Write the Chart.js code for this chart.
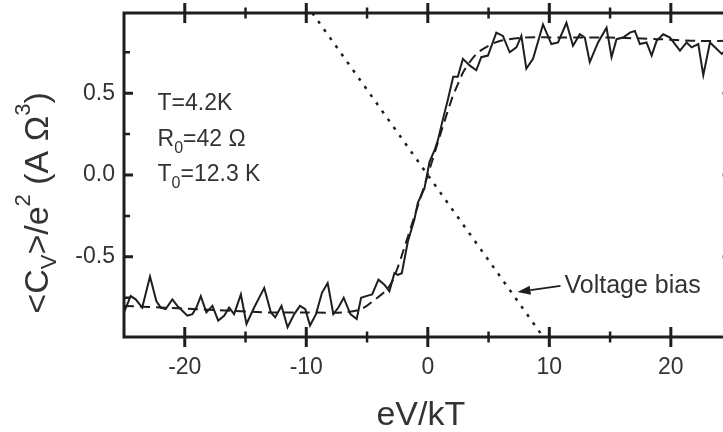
<!DOCTYPE html>
<html>
<head>
<meta charset="utf-8">
<script src="https://cdn.jsdelivr.net/npm/chart.js@4.4.1/dist/chart.umd.min.js"></script>
<style>
html, body { margin: 0; padding: 0; background: #fff; overflow: hidden; }
#wrap { width: 745px; height: 432px; }
</style>
</head>
<body>
<div id="wrap"><canvas id="cvChart" width="745" height="432"></canvas></div>
<script>
// measured <Cv>/e^2 (noisy curve)
const measuredX = [-25.0, -24.45, -24.04, -23.5, -22.86, -22.34, -21.98, -21.57, -21.02, -20.61,
    -20.2, -19.79, -19.37, -19.04, -18.68, -18.22, -17.72, -17.25, -16.76, -16.35,
    -15.94, -15.38, -14.92, -14.29, -13.46, -12.91, -12.56, -12.04, -11.54, -10.99,
    -10.52, -10.08, -9.69, -9.2, -8.71, -8.24, -7.77, -7.36, -6.92, -6.37,
    -5.85, -5.49, -5.08, -4.58, -4.06, -3.57, -3.16, -2.75, -2.47, -2.14,
    -1.65, -1.1, -0.82, -0.27, 0.14, 0.55, 0.82, 1.24, 1.65, 2.09,
    2.47, 2.89, 3.44, 3.99, 4.40, 4.95, 5.64, 6.18, 6.74, 7.29,
    7.70, 8.11, 8.66, 9.48, 10.17, 10.72, 11.41, 11.95, 12.51, 12.92,
    13.33, 14.01, 14.71, 15.12, 15.53, 16.08, 16.63, 17.04, 17.45, 18.0,
    18.42, 18.83, 19.37, 19.93, 20.75, 21.3, 21.71, 22.26, 22.67, 23.22,
    23.78, 24.19, 24.7, 25.0];
const measuredY = [-0.84, -0.74, -0.76, -0.81, -0.62, -0.77, -0.81, -0.82, -0.76, -0.80,
    -0.83, -0.86, -0.85, -0.81, -0.74, -0.84, -0.80, -0.89, -0.86, -0.81,
    -0.85, -0.73, -0.91, -0.81, -0.69, -0.84, -0.87, -0.80, -0.93, -0.85,
    -0.80, -0.82, -0.92, -0.85, -0.72, -0.66, -0.85, -0.81, -0.75, -0.85,
    -0.88, -0.75, -0.74, -0.73, -0.64, -0.67, -0.71, -0.60, -0.61, -0.60,
    -0.41, -0.27, -0.17, -0.08, 0.08, 0.15, 0.21, 0.34, 0.46, 0.60,
    0.60, 0.71, 0.67, 0.64, 0.72, 0.73, 0.87, 0.85, 0.75, 0.78,
    0.85, 0.65, 0.71, 0.92, 0.80, 0.81, 0.93, 0.79, 0.86, 0.84,
    0.69, 0.81, 0.90, 0.72, 0.83, 0.84, 0.87, 0.88, 0.80, 0.81,
    0.73, 0.82, 0.86, 0.84, 0.76, 0.81, 0.78, 0.80, 0.61, 0.81,
    0.77, 0.74, 0.78, 0.80];

// fitted curve (dashed)
const fitX = [-25, -22, -19, -16, -13, -10, -7, -5.5, -4.5, -3.5, -3, -2.5, -2, -1, 0,
    1, 2, 2.5, 3, 4, 5, 6, 8, 11, 15, 19, 22, 25];
const fitY = [-0.80, -0.81, -0.82, -0.83, -0.84, -0.84, -0.84, -0.82, -0.77, -0.71, -0.66, -0.57, -0.46, -0.23, 0.0,
    0.24, 0.47, 0.56, 0.64, 0.74, 0.79, 0.82, 0.84, 0.84, 0.84, 0.83, 0.82, 0.82];

// voltage bias line (dotted)
const biasX = [-9.5, 9.5];
const biasY = [0.99, -0.99];

// axes
const xMajor = [-20, -10, 0, 10, 20];
const xMinor = [-15, -5, 5, 15];
const yMajor = [-0.5, 0, 0.5];
const yMinor = [-0.75, -0.25, 0.25, 0.75];

const FONT = '"Liberation Sans", Arial, Helvetica, sans-serif';
const INK = '#1e1e1e';
const TEXT = '#333';

// annotation anchors in data units
const notes = {
    params: { x: -22.24, rows: [0.397, 0.177, -0.037] },
    biasLabel: { x: 11.25, y: -0.721 },
    arrowFrom: { x: 10.92, y: -0.678 },
    arrowTo: { x: 7.38, y: -0.715 }
};

function zip(xs, ys) {
    return xs.map((x, i) => ({ x: x, y: ys[i] }));
}

// draw a row of text pieces [text, size, dy], returns width
function drawRuns(ctx, runs, x, y, measureOnly) {
    let cx = x;
    runs.forEach(r => {
        ctx.font = r[1] + 'px ' + FONT;
        if (!measureOnly) ctx.fillText(r[0], cx, y + r[2]);
        cx += ctx.measureText(r[0]).width;
    });
    return cx - x;
}

// frame and inward ticks
const framePlugin = {
    id: 'frame',
    afterDatasetsDraw(chart) {
        const { ctx, chartArea: a, scales } = chart;
        const xs = scales.x, ys = scales.y;
        ctx.save();
        ctx.strokeStyle = INK;
        ctx.lineWidth = 3;
        ctx.strokeRect(a.left, a.top, a.right - a.left, a.bottom - a.top);

        function xTick(v, half, w) {
            const px = xs.getPixelForValue(v);
            ctx.lineWidth = w;
            ctx.beginPath();
            ctx.moveTo(px, a.bottom - half); ctx.lineTo(px, a.bottom + half);
            ctx.moveTo(px, a.top - half); ctx.lineTo(px, a.top + half);
            ctx.stroke();
        }
        function yTick(v, len, w) {
            const py = ys.getPixelForValue(v);
            ctx.lineWidth = w;
            ctx.beginPath();
            ctx.moveTo(a.left, py); ctx.lineTo(a.left + len, py);
            ctx.moveTo(a.right, py); ctx.lineTo(a.right - len, py);
            ctx.stroke();
        }
        xMajor.forEach(v => xTick(v, 10, 3));
        xMinor.forEach(v => xTick(v, 5.5, 2.5));
        yMajor.forEach(v => yTick(v, 9, 3));
        yMinor.forEach(v => yTick(v, 6, 2.5));
        ctx.restore();
    }
};

// titles and annotations
const textPlugin = {
    id: 'texts',
    afterDraw(chart) {
        const { ctx, chartArea: a, scales } = chart;
        const xs = scales.x, ys = scales.y;
        ctx.save();
        ctx.fillStyle = TEXT;
        ctx.textBaseline = 'alphabetic';
        ctx.textAlign = 'left';

        // x title
        ctx.font = '34px ' + FONT;
        ctx.textAlign = 'center';
        ctx.fillText('eV/kT', (a.left + a.right) / 2 - 7, a.bottom + 88);
        ctx.textAlign = 'left';

        // y title, rotated
        const yRuns = [['<C', 34, 0], ['V', 22, 8], ['>/e', 34, 0], ['2', 22, -18],
            [' (A \u03A9', 34, 0], ['3', 22, -18], [')', 34, 0]];
        const w = drawRuns(ctx, yRuns, 0, 0, true);
        ctx.save();
        ctx.translate(48, (a.top + a.bottom) / 2 + 28);
        ctx.rotate(-Math.PI / 2);
        drawRuns(ctx, yRuns, -w / 2, 0);
        ctx.restore();

        // parameters
        const px = xs.getPixelForValue(notes.params.x);
        const rows = [
            [['T=4.2K', 23, 0]],
            [['R', 23, 0], ['0', 16, 7], ['=42 \u03A9', 23, 0]],
            [['T', 23, 0], ['0', 16, 7], ['=12.3 K', 23, 0]]
        ];
        rows.forEach((r, i) => drawRuns(ctx, r, px, ys.getPixelForValue(notes.params.rows[i])));

        // voltage bias label with arrow
        ctx.font = '25px ' + FONT;
        ctx.fillText('Voltage bias', xs.getPixelForValue(notes.biasLabel.x), ys.getPixelForValue(notes.biasLabel.y));
        const x0 = xs.getPixelForValue(notes.arrowFrom.x), y0 = ys.getPixelForValue(notes.arrowFrom.y);
        const x1 = xs.getPixelForValue(notes.arrowTo.x), y1 = ys.getPixelForValue(notes.arrowTo.y);
        const ang = Math.atan2(y1 - y0, x1 - x0);
        const hl = 13, hw = 4.5;
        const bx = x1 - hl * Math.cos(ang), by = y1 - hl * Math.sin(ang);
        ctx.strokeStyle = INK;
        ctx.fillStyle = INK;
        ctx.lineWidth = 1.8;
        ctx.beginPath();
        ctx.moveTo(x0, y0); ctx.lineTo(bx, by);
        ctx.stroke();
        ctx.beginPath();
        ctx.moveTo(x1, y1);
        ctx.lineTo(bx + hw * Math.sin(ang), by - hw * Math.cos(ang));
        ctx.lineTo(bx - hw * Math.sin(ang), by + hw * Math.cos(ang));
        ctx.closePath();
        ctx.fill();
        ctx.restore();
    }
};

const ctx = document.getElementById('cvChart').getContext('2d');
new Chart(ctx, {
    type: 'line',
    data: {
        datasets: [
            { label: 'Measured', data: zip(measuredX, measuredY), borderColor: INK, borderWidth: 2, pointRadius: 0, tension: 0 },
            { label: 'Fit', data: zip(fitX, fitY), borderColor: INK, borderWidth: 2, borderDash: [10, 6], pointRadius: 0, tension: 0.3 },
            { label: 'Voltage bias', data: zip(biasX, biasY), borderColor: INK, borderWidth: 2.5, borderDash: [3, 7], pointRadius: 0 }
        ]
    },
    options: {
        responsive: false,
        animation: false,
        devicePixelRatio: 1,
        layout: { padding: { left: 0, top: 13, right: 13.4, bottom: 0 } },
        plugins: { legend: { display: false }, tooltip: { enabled: false } },
        scales: {
            x: {
                type: 'linear', min: -25, max: 25,
                grid: { display: false, drawTicks: false },
                border: { display: false },
                afterBuildTicks: s => { s.ticks = xMajor.map(v => ({ value: v })); },
                afterFit: s => { s.height = 95; s.paddingLeft = 0; s.paddingRight = 0; },
                ticks: { color: TEXT, font: { family: FONT, size: 23 }, padding: 17, maxRotation: 0, autoSkip: false,
                    callback: v => String(v) }
            },
            y: {
                type: 'linear', min: -0.99, max: 0.99,
                grid: { display: false, drawTicks: false },
                border: { display: false },
                afterBuildTicks: s => { s.ticks = yMajor.map(v => ({ value: v })); },
                afterFit: s => { s.width = 124; s.paddingTop = 0; s.paddingBottom = 0; },
                ticks: { color: TEXT, font: { family: FONT, size: 23 }, padding: 9, autoSkip: false,
                    callback: v => v.toFixed(1) }
            }
        }
    },
    plugins: [framePlugin, textPlugin]
});
</script>
</body>
</html>
